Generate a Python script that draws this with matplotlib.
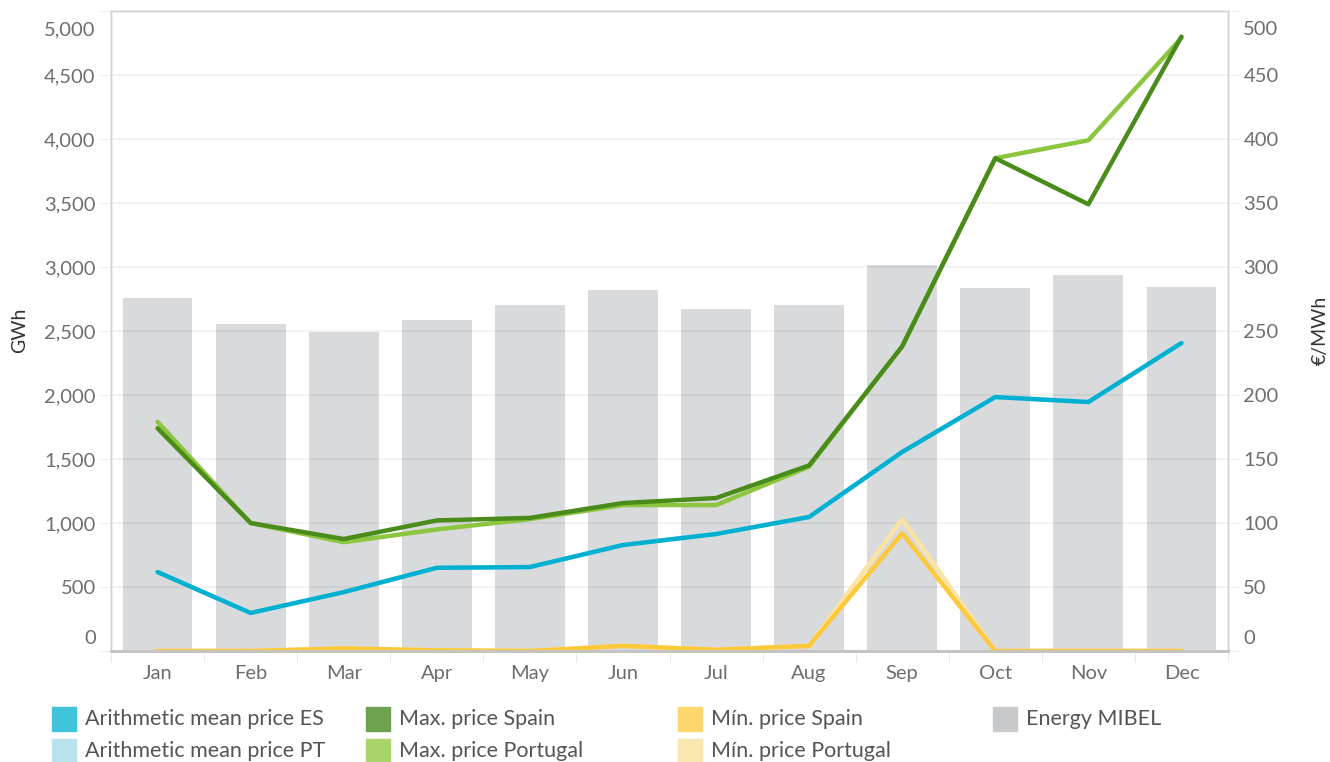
import numpy as np
import matplotlib.pyplot as plt
from matplotlib.patches import Rectangle
from matplotlib.transforms import ScaledTranslation

plt.rcParams['font.family'] = ['Lato', 'DejaVu Sans']

months = ['Jan', 'Feb', 'Mar', 'Apr', 'May', 'Jun', 'Jul', 'Aug', 'Sep', 'Oct', 'Nov', 'Dec']
energy_mibel = [2760, 2555, 2492, 2586, 2703, 2820, 2672, 2703, 3016, 2836, 2938, 2844]
mean_es = [61.7, 29.7, 46, 65, 65.6, 82.8, 91.4, 104.7, 155.5, 198.4, 194.5, 240.6]
mean_pt = [61.7, 29.7, 46, 65, 65.6, 82.8, 91.4, 104.7, 155.5, 198.4, 194.5, 240.6]
max_es = [174, 100, 87.5, 102, 104, 115.6, 119.5, 145, 238, 385, 349, 480]
max_pt = [179, 100, 85, 95, 103, 114, 114, 144, 238, 385, 399, 479]
min_es = [0, 0, 2, 0.5, 0, 4, 1, 4, 92, 0, 0, 0]
min_pt = [0, 0, 2, 0.5, 0, 4, 1, 4, 103, 0, 0, 0]

gwh_ticks = np.arange(0, 5001, 500)
eur_ticks = np.arange(0, 501, 50)

c_bar = '#d9dadc'
c_mean_es, c_mean_pt = '#00b0d0', '#b8e2ec'
c_max_es, c_max_pt = '#4a8c1c', '#8cc63e'
c_min_es, c_min_pt = '#fcc93a', '#fbe3a4'
tick_col = '#6e6e6e'

fig = plt.figure(figsize=(13.3, 7.62), dpi=100)
ax = fig.add_axes([111/1330, 1-651/762, (1228-111)/1330, (651-11)/762])
x = np.arange(len(months))

ax.bar(x, energy_mibel, width=0.75, color=c_bar, zorder=1)
ax.set_xlim(-0.5, 11.5)
ax.set_ylim(0, 5000)
ax.set_yticks(gwh_ticks)
ax.set_yticklabels([f'{v:,}' for v in gwh_ticks])
ax.grid(axis='y', color='black', alpha=0.05, lw=1.5)
ax.set_axisbelow(False)

ax2 = ax.twinx()
ax2.set_ylim(0, 500)
ax2.set_yticks(eur_ticks)
ax2.set_yticklabels([str(v) for v in eur_ticks])
lw = 3.2
ax2.plot(x, mean_pt, color=c_mean_pt, lw=lw, solid_capstyle='round')
ax2.plot(x, mean_es, color=c_mean_es, lw=lw, solid_capstyle='round')
ax2.plot(x, max_pt, color=c_max_pt, lw=lw, solid_capstyle='round')
ax2.plot(x, max_es, color=c_max_es, lw=lw, solid_capstyle='round')
ax2.plot(x, min_pt, color=c_min_pt, lw=lw, solid_capstyle='round')
ax2.plot(x, min_es, color=c_min_es, lw=lw, solid_capstyle='round')

for a in (ax, ax2):
    for s in a.spines.values():
        s.set_color('#d2d2d2')
        s.set_linewidth(1)
    a.spines['bottom'].set_color('#c4c4c4')
    a.spines['bottom'].set_linewidth(2)
    a.tick_params(axis='y', length=8, color='#eeeeee', labelsize=14.5,
                  labelcolor=tick_col, pad=3)

ax.set_xticks(x)
ax.set_xticklabels(months)
ax.set_xticks(np.arange(-0.5, 12, 1), minor=True)
ax.tick_params(axis='x', which='major', length=0, labelsize=14.5, labelcolor=tick_col, pad=10)
ax.tick_params(axis='x', which='minor', length=8, color='#e6e6e6')

# nudge end labels inside the plot like the original
up = ScaledTranslation(0, 14/100, fig.dpi_scale_trans)
down = ScaledTranslation(0, -17/100, fig.dpi_scale_trans)
for a in (ax, ax2):
    labs = a.get_yticklabels()
    labs[0].set_transform(labs[0].get_transform() + up)
    labs[-1].set_transform(labs[-1].get_transform() + down)

fig.text(20/1330, 1-330/762, 'GWh', rotation=90, ha='center', va='center', fontsize=14, color='#333333')
fig.text(1320/1330, 1-330/762, '€/MWh', rotation=90, ha='center', va='center', fontsize=14, color='#333333')

legend_items = [
    ('Arithmetic mean price ES', '#40c4dc', 52, 719),
    ('Arithmetic mean price PT', '#b8e2ec', 52, 751),
    ('Max. price Spain', '#6ea24e', 366, 719),
    ('Max. price Portugal', '#a8d46a', 366, 751),
    ('Mín. price Spain', '#fdd66e', 678, 719),
    ('Mín. price Portugal', '#fae7b0', 678, 751),
    ('Energy MIBEL', '#c8c9cb', 993, 719),
]
for label, col, px, py in legend_items:
    fig.patches.append(Rectangle((px/1330, (762-py-12)/762), 24/1330, 24/762,
                                 transform=fig.transFigure, color=col))
    fig.text((px+33)/1330, 1-py/762, label, ha='left', va='center', fontsize=15.5, color='#555555')

fig.savefig('out.png', dpi=100)
